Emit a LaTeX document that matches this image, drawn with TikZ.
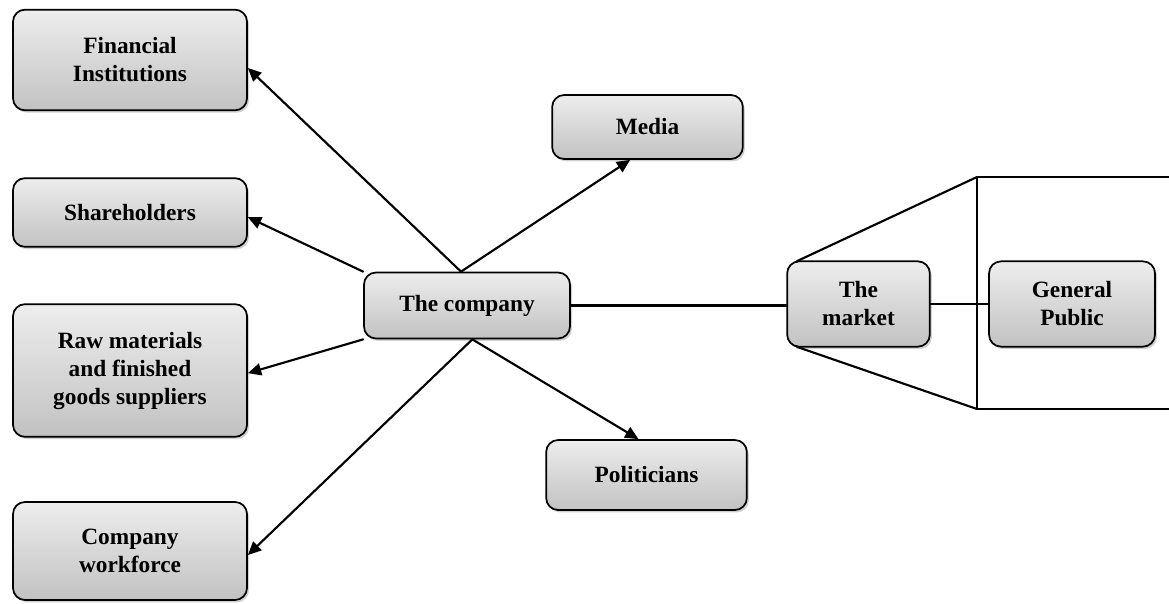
\documentclass[tikz,border=0pt]{standalone}
\usepackage{fontspec}
\setmainfont{Liberation Serif}
\usepackage{tikz}
\usetikzlibrary{arrows.meta}
\usetikzlibrary{shadows}
\usetikzlibrary{positioning}

\tikzset{
  box/.style={draw=black,line width=1.3pt,rounded corners=9pt,align=center,
    top color=gray!14,bottom color=gray!48,
    drop shadow={shadow xshift=1.5pt,shadow yshift=-1.8pt,fill=gray!70},
    font=\fontsize{17.5}{21}\selectfont\bfseries,inner sep=0pt},
  link/.style={line width=1.6pt,color=black},
  tip/.style={link,->}
}

\begin{document}
\begin{tikzpicture}[line cap=round,line join=round,>={Triangle[length=10pt,width=9pt]},x=0.75pt,y=-0.75pt]
\useasboundingbox (0,0) rectangle (1169,603);
% stakeholder boxes
\node[box,minimum width=175.5pt,minimum height=75.5pt] (fin) at (130,60) {Financial\\Institutions};
\node[box,minimum width=175.5pt,minimum height=51.5pt] (share) at (130,212.5) {Shareholders};
\node[box,minimum width=175.5pt,minimum height=99.5pt] (raw) at (130,370.5) {Raw materials\\and finished\\goods suppliers};
\node[box,minimum width=175.5pt,minimum height=73.5pt] (work) at (130,551) {Company\\workforce};
\node[box,minimum width=154.5pt,minimum height=49.5pt] (comp) at (467,305.5) {The company};
\node[box,minimum width=143pt,minimum height=48pt] (media) at (647.5,127) {Media};
\node[box,minimum width=150.5pt,minimum height=52.5pt] (pol) at (646.5,475) {Politicians};
\node[box,minimum width=107pt,minimum height=64pt] (market) at (858.5,304) {The\\market};
\node[box,minimum width=124.5pt,minimum height=64pt] (pub) at (1072,304) {General\\Public};
% the market frame
\coordinate (ftl) at (977,177);
\coordinate (fbl) at (977,409);
\coordinate (ftr) at (1169,177);
\coordinate (fbr) at (1169,409);
\draw[link] ([xshift=8pt,yshift=-0.5pt]market.north west) -- (ftl);
\draw[link] ([xshift=8pt,yshift=0.5pt]market.south west) -- (fbl);
\draw[link] (ftr) -- (ftl) -- (fbl) -- (fbr);
% connectors
\draw[tip] ([xshift=-4.5pt]comp.north) -- ([yshift=-6pt]fin.east);
\draw[tip] ([xshift=-4.5pt]comp.north) -- ([xshift=-13pt]media.south);
\draw[tip] (comp.north west) -- ([yshift=-3.5pt]share.east);
\draw[tip] (comp.south west) -- ([yshift=-2pt]raw.east);
\draw[tip] ([xshift=4pt]comp.south) -- ([yshift=-3pt]work.east);
\draw[tip] ([xshift=4pt]comp.south) -- ([xshift=-6pt]pol.north);
\draw[link] (comp.east) -- (comp.east -| market.west);
\draw[link] (market.east) -- (pub.west);
\end{tikzpicture}
\end{document}
